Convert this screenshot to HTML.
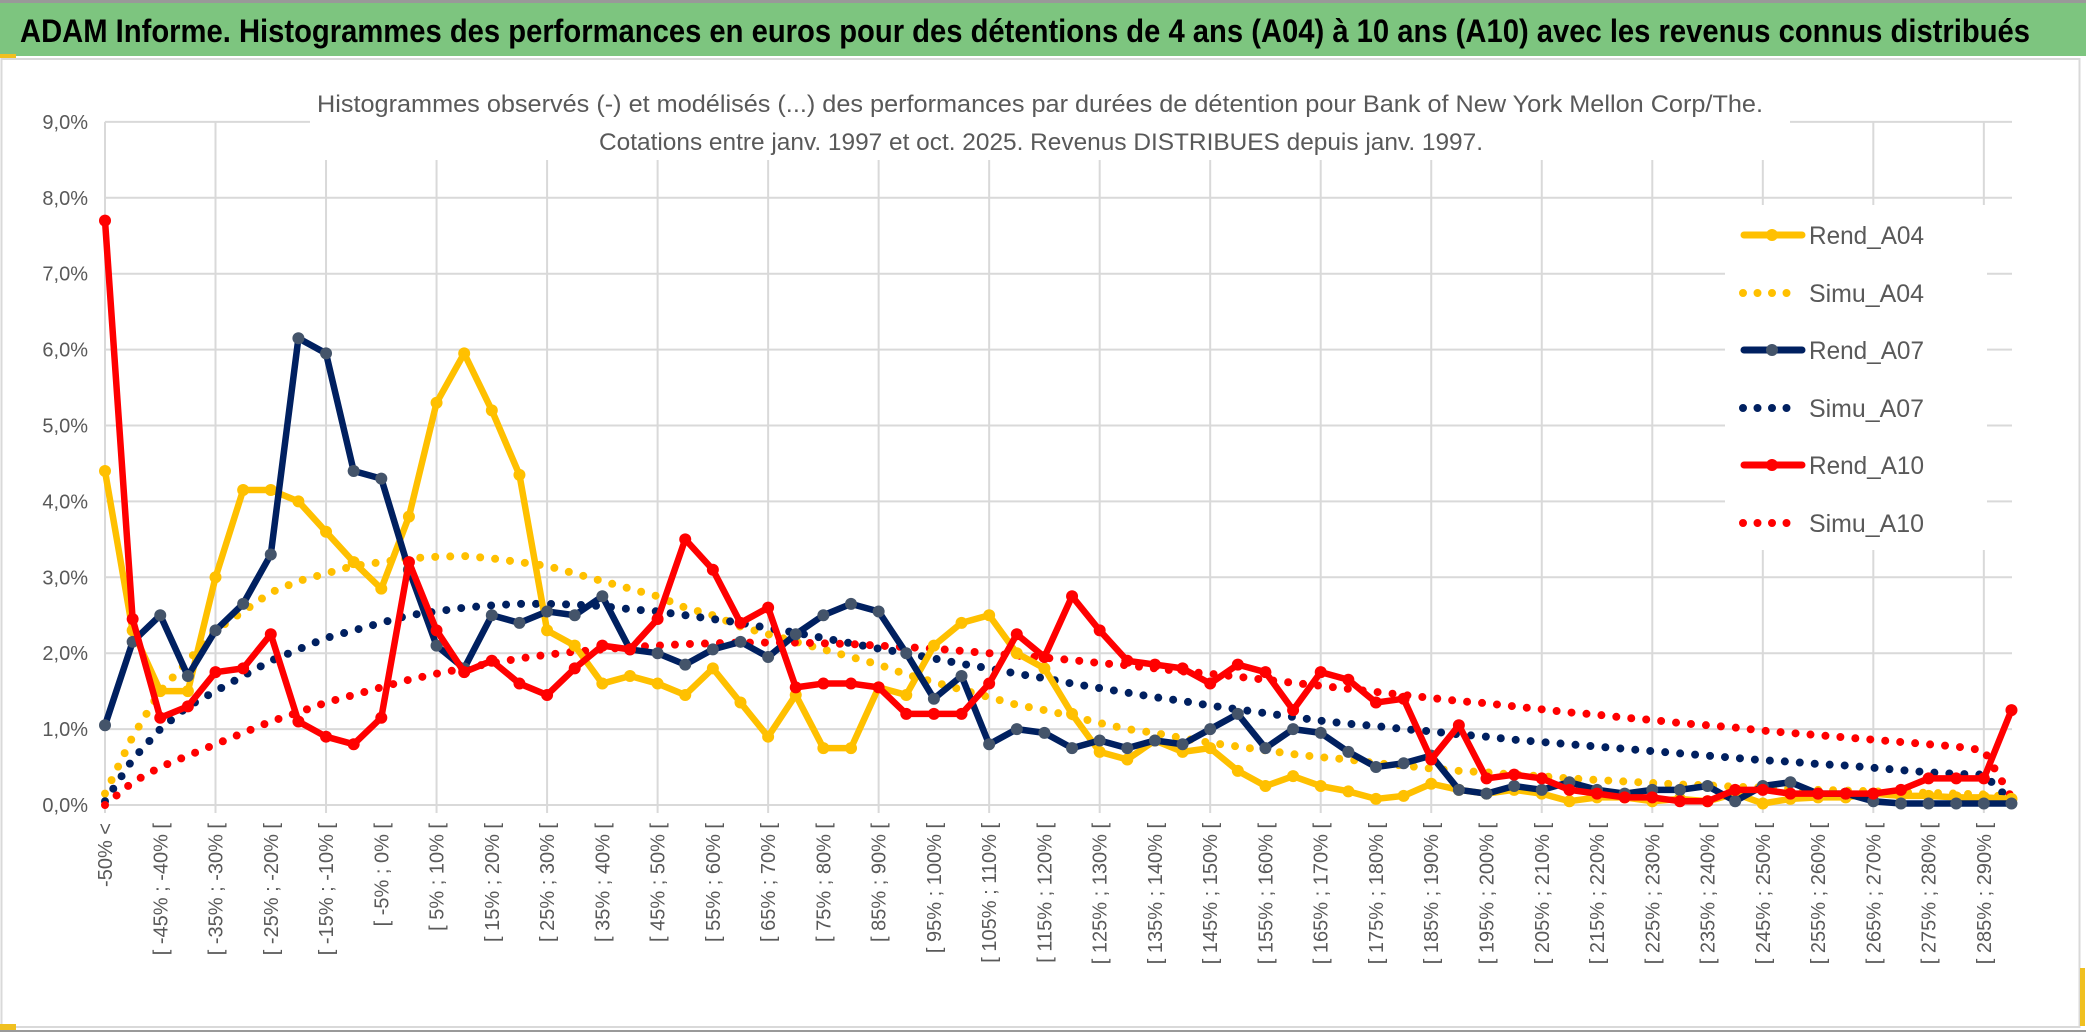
<!DOCTYPE html>
<html><head><meta charset="utf-8"><style>
html,body{margin:0;padding:0;background:#fff;}
svg{display:block;font-family:"Liberation Sans",sans-serif;}
</style></head><body>
<svg id="c" width="2086" height="1033" viewBox="0 0 2086 1033">
<rect x="0" y="0" width="2086" height="1033" fill="#fff"/>
<rect x="0" y="2" width="2086" height="54" fill="#7dc57f"/>
<line x1="0" y1="1.5" x2="2086" y2="1.5" stroke="#999" stroke-width="3"/>
<rect x="0" y="54" width="16" height="4" fill="#f0c020"/>
<text x="20" y="42" font-size="32" font-weight="bold" fill="#000" textLength="2010" lengthAdjust="spacingAndGlyphs">ADAM Informe. Histogrammes des performances en euros pour des détentions de 4 ans (A04) à 10 ans (A10) avec les revenus connus distribués</text>
<rect x="1.5" y="59" width="2078" height="968" fill="none" stroke="#d9d9d9" stroke-width="2"/>
<rect x="0" y="1024" width="16" height="6" fill="#f0c020"/>
<rect x="2080" y="968" width="5" height="58" fill="#f0c020"/>
<line x1="0" y1="1031" x2="2086" y2="1031" stroke="#999" stroke-width="2"/>
<g id="grid"></g>
<rect x="310" y="85" width="1480" height="75" fill="#fff"/>
<text x="1040" y="112" font-size="24" fill="#595959" text-anchor="middle" textLength="1446" lengthAdjust="spacingAndGlyphs">Histogrammes observés (-) et modélisés (...) des performances par durées de détention pour Bank of New York Mellon Corp/The.</text>
<text x="1041" y="150" font-size="24" fill="#595959" text-anchor="middle" textLength="884" lengthAdjust="spacingAndGlyphs">Cotations entre janv. 1997 et oct. 2025. Revenus DISTRIBUES depuis janv. 1997.</text>
<g id="series"></g>
<g id="legend"></g>
</svg>
<script>
const categories = ["-50% <"];
for (let k = 0; k < 69; k++) { const a = -50 + 5 * k; categories.push("[ " + a + "% ; " + (a + 5) + "% ["); }
const yTicks = [0,1,2,3,4,5,6,7,8,9];
const rendA04 = [4.4,2.3,1.5,1.5,3.0,4.15,4.15,4.0,3.6,3.2,2.85,3.8,5.3,5.95,5.2,4.35,2.3,2.1,1.6,1.7,1.6,1.45,1.8,1.35,0.9,1.45,0.75,0.75,1.55,1.45,2.1,2.4,2.5,2.0,1.8,1.2,0.7,0.6,0.85,0.7,0.75,0.45,0.25,0.38,0.25,0.18,0.08,0.12,0.28,0.2,0.15,0.2,0.15,0.05,0.1,0.1,0.05,0.08,0.05,0.15,0.02,0.08,0.1,0.1,0.15,0.12,0.12,0.1,0.1,0.08];
const simuA04 = [0.15,0.9,1.5,1.9,2.3,2.55,2.8,2.95,3.05,3.15,3.2,3.25,3.27,3.28,3.25,3.2,3.15,3.05,2.95,2.85,2.75,2.6,2.5,2.35,2.25,2.15,2.05,1.95,1.85,1.72,1.62,1.52,1.42,1.32,1.25,1.17,1.08,1.0,0.95,0.88,0.82,0.77,0.72,0.67,0.63,0.6,0.55,0.52,0.48,0.45,0.43,0.4,0.38,0.35,0.33,0.31,0.29,0.27,0.26,0.24,0.23,0.22,0.2,0.19,0.18,0.17,0.16,0.15,0.14,0.1];
const rendA07 = [1.05,2.15,2.5,1.7,2.3,2.65,3.3,6.15,5.95,4.4,4.3,3.1,2.1,1.8,2.5,2.4,2.55,2.5,2.75,2.05,2.0,1.85,2.05,2.15,1.95,2.25,2.5,2.65,2.55,2.0,1.4,1.7,0.8,1.0,0.95,0.75,0.85,0.75,0.85,0.8,1.0,1.2,0.75,1.0,0.95,0.7,0.5,0.55,0.65,0.2,0.15,0.25,0.2,0.3,0.2,0.15,0.2,0.2,0.25,0.05,0.25,0.3,0.15,0.15,0.05,0.02,0.02,0.02,0.02,0.02];
const simuA07 = [0.05,0.6,1.0,1.3,1.5,1.7,1.9,2.05,2.2,2.3,2.4,2.5,2.55,2.6,2.63,2.65,2.65,2.64,2.62,2.58,2.55,2.5,2.45,2.4,2.33,2.27,2.2,2.13,2.06,2.0,1.93,1.86,1.8,1.73,1.67,1.6,1.54,1.48,1.42,1.37,1.31,1.26,1.21,1.16,1.11,1.07,1.04,1.0,0.97,0.93,0.9,0.86,0.83,0.8,0.77,0.74,0.71,0.68,0.65,0.62,0.59,0.57,0.54,0.52,0.49,0.46,0.43,0.41,0.4,0.05];
const rendA10 = [7.7,2.45,1.15,1.3,1.75,1.8,2.25,1.1,0.9,0.8,1.15,3.2,2.3,1.75,1.9,1.6,1.45,1.8,2.1,2.05,2.45,3.5,3.1,2.4,2.6,1.55,1.6,1.6,1.55,1.2,1.2,1.2,1.6,2.25,1.95,2.75,2.3,1.9,1.85,1.8,1.6,1.85,1.75,1.25,1.75,1.65,1.35,1.4,0.6,1.05,0.35,0.4,0.35,0.2,0.15,0.1,0.1,0.05,0.05,0.2,0.2,0.15,0.15,0.15,0.15,0.2,0.35,0.35,0.35,1.25];
const simuA10 = [0.0,0.3,0.5,0.65,0.8,0.95,1.1,1.22,1.35,1.45,1.55,1.65,1.73,1.8,1.87,1.93,1.98,2.02,2.05,2.08,2.1,2.12,2.13,2.14,2.14,2.14,2.13,2.12,2.1,2.08,2.06,2.03,2.0,1.97,1.94,1.91,1.87,1.84,1.8,1.76,1.73,1.69,1.65,1.61,1.57,1.53,1.49,1.45,1.41,1.37,1.34,1.3,1.26,1.22,1.19,1.15,1.12,1.08,1.05,1.02,0.98,0.95,0.92,0.89,0.86,0.83,0.8,0.77,0.72,0.1];

const NS = "http://www.w3.org/2000/svg";
const X0 = 105, DX = 27.63, Y0 = 805, DY = 75.9, XR = 2012;
const xs = i => X0 + i * DX;
const ys = v => Y0 - v * DY;
function mk(tag, attrs, parent) { const e = document.createElementNS(NS, tag); for (const k in attrs) e.setAttribute(k, attrs[k]); parent.appendChild(e); return e; }

const grid = document.getElementById('grid');
yTicks.forEach(t => {
  const l = mk('line', {x1: X0, x2: XR, y1: ys(t), y2: ys(t), stroke: '#d9d9d9', 'stroke-width': 2}, grid);
  
  
  const tx = mk('text', {x: 88, y: ys(t) + 7, 'font-size': 20, fill: '#595959', 'text-anchor': 'end'}, grid);
  tx.textContent = t.toFixed(1).replace('.', ',') + '%';
  
  
});
categories.forEach((c, i) => {
  if (i % 4 === 0) {
    const l = mk('line', {x1: xs(i), x2: xs(i), y1: ys(9), y2: Y0 + 8, stroke: '#d9d9d9', 'stroke-width': 2}, grid);
    
    
  }
  if (i % 2 === 0) {
    const tx = mk('text', {x: 0, y: 0, 'font-size': 20, fill: '#595959', 'text-anchor': 'end', transform: 'translate(' + (xs(i) + 7) + ',823) rotate(-90)'}, grid);
    tx.textContent = c;
    
    
  }
});

const ser = document.getElementById('series');
function dotted(vals, color, name) {
  const p = mk('polyline', {points: vals.map((v, i) => xs(i) + ',' + ys(v)).join(' '), fill: 'none', stroke: color, 'stroke-width': 8, 'stroke-linecap': 'round', 'stroke-dasharray': '0 15'}, ser);
  
  
}
function solid(vals, color, mcolor, name) {
  const p = mk('polyline', {points: vals.map((v, i) => xs(i) + ',' + ys(v)).join(' '), fill: 'none', stroke: color, 'stroke-width': 6.5, 'stroke-linejoin': 'round'}, ser);
  
  
  vals.forEach((v, i) => {
    const c = mk('circle', {cx: xs(i), cy: ys(v), r: 6, fill: mcolor}, ser);
    
    
  });
}
dotted(simuA04, '#ffc000', 'simu-a04-line');
dotted(simuA07, '#002060', 'simu-a07-line');
dotted(simuA10, '#ff0000', 'simu-a10-line');
solid(rendA04, '#ffc000', '#ffc000', 'rend-a04-line');
solid(rendA07, '#002060', '#44546a', 'rend-a07-line');
solid(rendA10, '#ff0000', '#ff0000', 'rend-a10-line');

const lg = document.getElementById('legend');
const bg = mk('rect', {x: 1725, y: 205, width: 262, height: 345, fill: '#fff'}, lg);


const entries = [['Rend_A04','#ffc000','#ffc000',false],['Simu_A04','#ffc000','',true],['Rend_A07','#002060','#44546a',false],['Simu_A07','#002060','',true],['Rend_A10','#ff0000','#ff0000',false],['Simu_A10','#ff0000','',true]];
const ly = [235, 293, 350, 408, 465, 523];
entries.forEach((e, k) => {
  const y = ly[k];
  if (e[3]) {
    const l = mk('line', {x1: 1743, x2: 1800, y1: y, y2: y, stroke: e[1], 'stroke-width': 8, 'stroke-linecap': 'round', 'stroke-dasharray': '0 14.5'}, lg);
    
    
  } else {
    const l = mk('line', {x1: 1744, x2: 1802, y1: y, y2: y, stroke: e[1], 'stroke-width': 7, 'stroke-linecap': 'round'}, lg);
    
    
    mk('circle', {cx: 1772, cy: y, r: 6, fill: e[2]}, lg);
  }
  const t = mk('text', {x: 1809, y: y + 9, 'font-size': 25, fill: '#595959', textLength: 115, lengthAdjust: 'spacingAndGlyphs'}, lg);
  t.textContent = e[0];
  
  
});
</script>
</body></html>
